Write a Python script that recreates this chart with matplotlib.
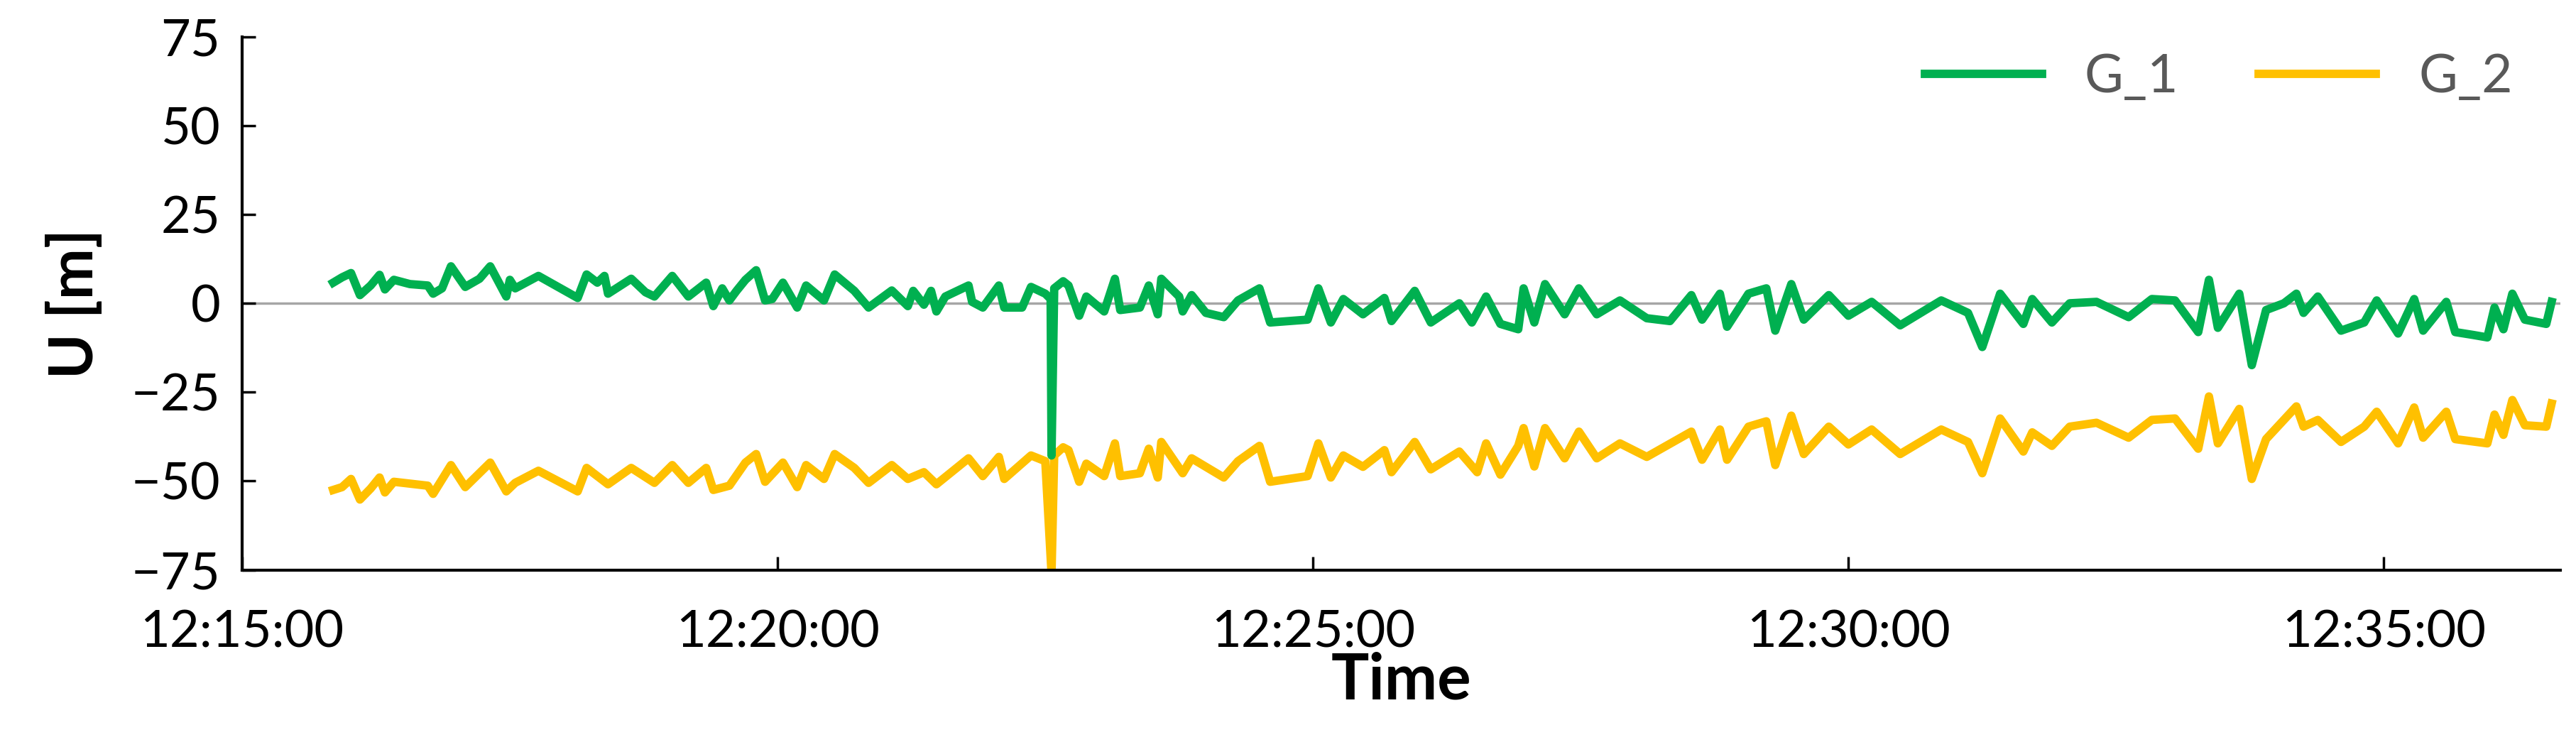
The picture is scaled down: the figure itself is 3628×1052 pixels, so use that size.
import matplotlib
matplotlib.use("Agg")
import matplotlib.pyplot as plt

# seconds after 12:15:00
t1 = [51,56,61,66,72,77,80,85,94,104,107,112,117,125,133,139,148,150,153,166,188,193,199,203,205,218,226,231,241,250,
      260,264,269,273,277,282,288,293,297,303,311,316,326,332,343,351,364,373,376,382,386,389,394,407,409,415,424,427,437,442,
      450,453,453.5,455,460,463,469,473,483,489,492,503,508,513,
      515,525,527,532,540,550,558,570,576,597,603,610,617,628,640,644,657,666,682,689,697,705,715,718,724,730,741,749,759,772,
      787,800,812,818,828,832,844,854,859,868,875,889,900,913,929,952,967,975,985,998,1003,1014,1024,1039,1057,1070,1083,1096,
      1102,1107,1119,1126,1134,1144,1151,1155,1163,1176,1189,1196,1208,1217,1222,1235,1240,1250,1258,1262,1267,1272,1279,1291,1294]
g1 = [5.8,7.3,8.5,2.3,5,8,3.9,6.6,5.4,5,2.7,4.2,10.4,4.6,6.9,10.4,1.9,6.6,4.2,7.7,1.5,8.1,5.8,7.7,2.7,6.9,3.1,1.9,7.7,1.9,
      5.8,-0.8,4.2,0.8,3.5,6.6,9.3,0.8,1.2,5.8,-1.2,5,0.8,8.1,3.5,-1.2,3.6,-0.8,3.5,-0.4,3.5,-2.3,1.9,5,0.4,-1.2,5,-1.2,-1.2,4.6,
      2.7,1.2,-42.8,4.2,6.2,5,-3.5,1.9,-2.3,6.9,-1.9,-1.2,5,-3.1,
      6.9,1.9,-2.3,2.3,-2.7,-3.9,0.8,4.2,-5.4,-4.6,4.2,-5.4,1.2,-3.1,1.5,-5,3.5,-5.4,0,-5.4,1.9,-5.8,-7.3,4.2,-5.4,5.4,-3.1,4.2,-3.1,0.8,
      -4.2,-5,2.3,-4.6,2.7,-6.6,2.7,4.2,-7.7,5.4,-4.6,2.3,-3.5,0.4,-6.2,0.8,-2.7,-12.3,2.7,-5.8,1.2,-5.4,0,0.4,-3.9,1.2,0.8,-8.1,
      6.6,-6.9,2.7,-17.4,-1.9,0,2.7,-2.7,1.9,-7.7,-5.4,0.8,-8.5,1.2,-7.7,0.4,-8.1,-8.9,-9.6,-1.2,-7.3,2.7,-4.6,-5.8,0.4]

t2 = [51,56,61,66,72,77,80,85,104,107,117,125,139,148,153,166,188,193,205,218,231,241,250,260,264,273,282,288,293,303,
      311,316,326,332,343,351,364,373,382,389,407,415,424,427,442,450,453.5,455,460,463,469,473,483,489,492,503,508,513,
      515,527,532,550,558,570,576,597,603,610,617,628,640,644,657,666,682,692,697,705,715,718,724,730,741,749,759,772,787,812,
      818,828,832,844,854,859,868,875,889,900,913,929,952,967,975,985,998,1003,1014,1024,1039,1057,1070,1083,1096,1102,1107,1119,
      1126,1134,1144,1151,1155,1163,1176,1189,1196,1208,1217,1222,1235,1240,1258,1262,1267,1272,1279,1291,1294]
g2 = [-52.5,-51.7,-49.4,-55.2,-52.1,-49,-53.2,-50.2,-51.3,-53.6,-45.5,-51.7,-44.8,-52.9,-50.5,-47.1,-52.9,-46.3,-50.9,-46.3,
      -50.5,-45.5,-50.5,-46.3,-52.5,-51.3,-44.8,-42.4,-50.2,-44.8,-51.7,-45.5,-49.4,-42.4,-46.3,-50.5,-45.5,-49.4,-47.5,-50.9,
      -43.6,-48.6,-43.2,-49.4,-42.8,-44.4,-76,-42.8,-40.5,-41.3,-50.2,-45.1,-48.6,-39.4,-48.6,-47.8,-40.9,-49,
      -39,-47.8,-43.6,-49,-44.4,-40.1,-50.2,-48.6,-39.4,-49,-42.8,-46,-41.3,-47.5,-39,-46.7,-41.7,-47.5,-39.4,-48.2,-40.1,-35.1,
      -45.9,-35.1,-43.6,-36.1,-43.6,-39.4,-43.2,-36.1,-44,-35.5,-44,-34.7,-33.2,-45.5,-31.6,-42.4,-34.7,-39.7,-35.5,-42.4,-35.5,-39,
      -47.8,-32.4,-41.7,-36.3,-40.1,-34.7,-33.6,-37.8,-32.8,-32.4,-40.9,-26.2,-39.4,-29.7,-49.4,-38.2,-32.8,-29,-34.7,-32.8,-39,
      -34.7,-30.5,-39.4,-29.3,-37.8,-30.5,-38.2,-39.4,-31.3,-37,-27.2,-34.3,-34.7,-28.2]

xticks = [0, 300, 600, 900, 1200]
xticklabels = ["12:15:00", "12:20:00", "12:25:00", "12:30:00", "12:35:00"]
yticks = [-75, -50, -25, 0, 25, 50, 75]

plt.rcParams['font.family'] = ['Lato', 'DejaVu Sans']
fig = plt.figure(figsize=(36.28, 10.52), dpi=100)
ax = fig.add_axes([0.094, 0.237, 0.9, 0.714])
ax.axhline(0, color='#a6a6a6', lw=2.5, zorder=1)
ax.plot(t1, g1, color='#00b050', lw=8.5, label='G_1', zorder=3, solid_joinstyle='round')
ax.plot(t2, g2, color='#ffc000', lw=8.5, label='G_2', zorder=2, solid_joinstyle='round')
ax.set_xlim(0, 1299)
ax.set_ylim(-75, 75)
ax.set_yticks(yticks)
ax.set_xticks(xticks)
ax.set_xticklabels(xticklabels)
for s in ['top', 'right']:
    ax.spines[s].set_visible(False)
for s in ['left', 'bottom']:
    ax.spines[s].set_linewidth(3)
ax.tick_params(axis='both', direction='in', length=14, width=2.5, labelsize=52)
ax.tick_params(axis='x', pad=40)
ax.tick_params(axis='y', pad=22)
ax.set_xlabel('Time', fontsize=64, fontweight='bold', labelpad=-4)
ax.set_ylabel('U [m]', fontsize=62, fontweight='bold', labelpad=28)
leg = ax.legend(loc='upper right', ncol=2, frameon=False, fontsize=54, handlelength=2.2,
                columnspacing=1.5, bbox_to_anchor=(1.0, 1.06))
for tx in leg.get_texts():
    tx.set_color('#595959')
fig.savefig('out.png', dpi=100)
